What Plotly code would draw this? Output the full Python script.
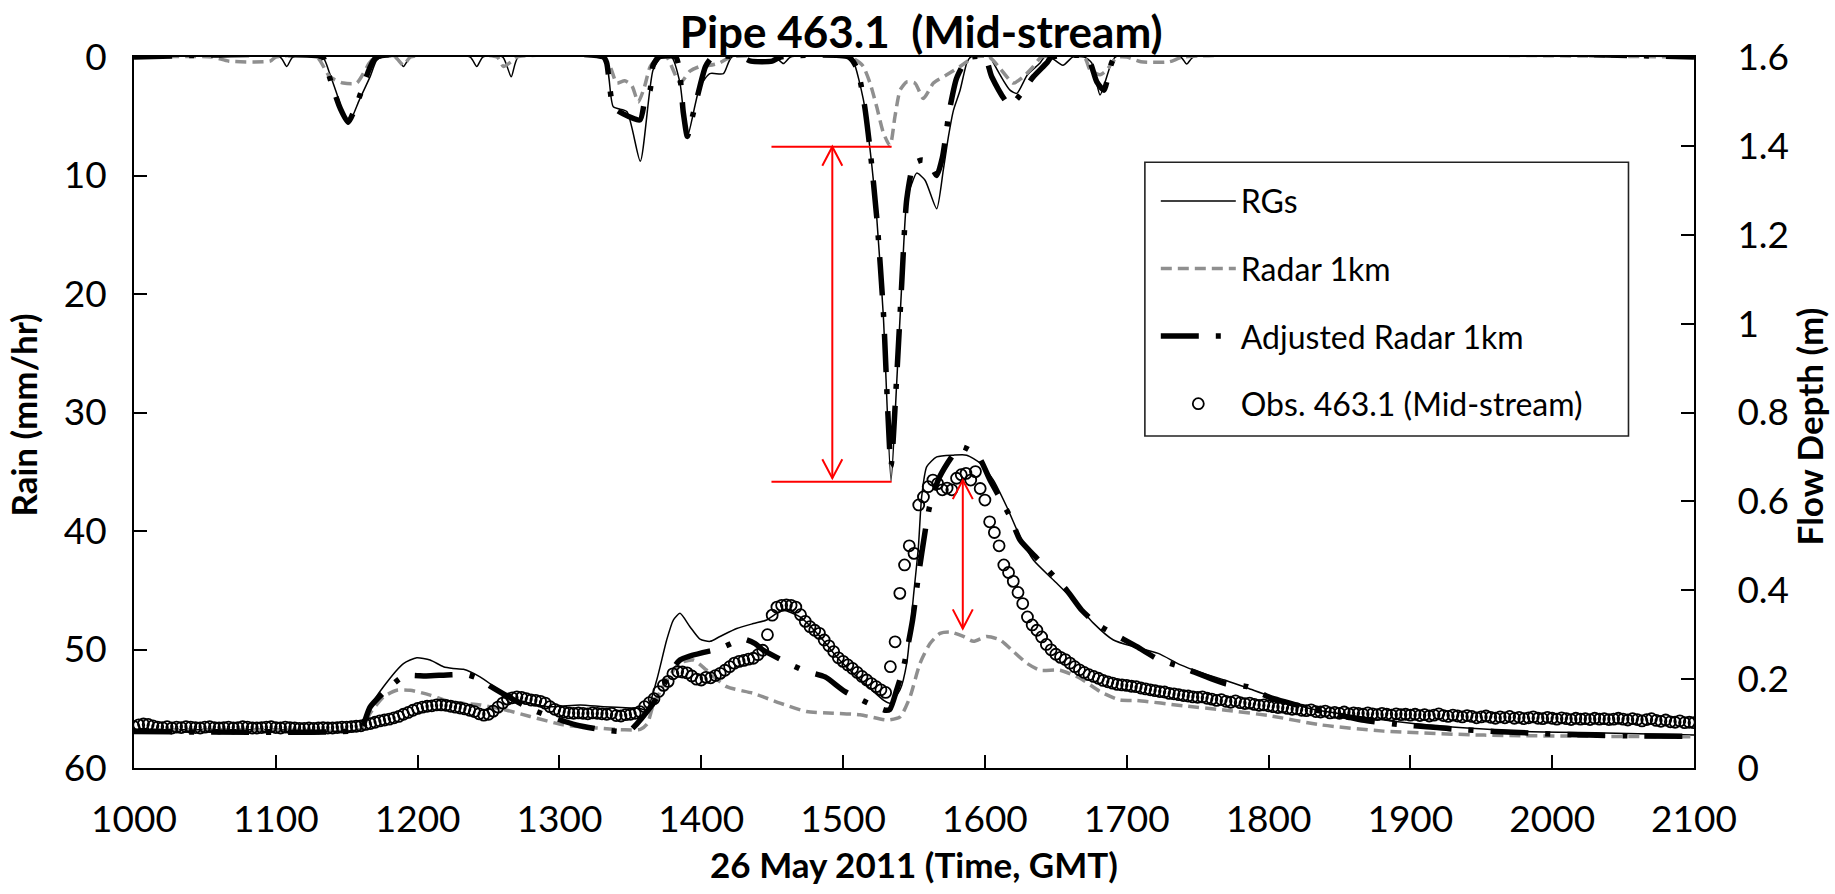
import plotly.graph_objects as go

# ---------------- tick labels ----------------
x_tick_vals = [10, 11, 12, 13, 14, 15, 16, 17, 18, 19, 20, 21]
x_tick_text = ["1000", "1100", "1200", "1300", "1400", "1500", "1600",
               "1700", "1800", "1900", "2000", "2100"]
rain_tick_vals = [0, 10, 20, 30, 40, 50, 60]
depth_tick_vals = [0, 0.2, 0.4, 0.6, 0.8, 1.0, 1.2, 1.4, 1.6]

# ---------------- rainfall (mm/hr), time in decimal hours ----------------
rg_rain_t = [10.00, 11.03, 11.077, 11.12, 11.33, 11.38, 11.43, 11.51, 11.59, 11.665, 11.71, 11.75,
             11.85, 11.90, 11.95, 12.37, 12.417, 12.46, 12.60, 12.66, 12.71,
             13.31, 13.38, 13.475, 13.57, 13.66, 13.72,
             13.79, 13.85, 13.90, 13.99, 14.06, 14.156, 14.215, 14.52, 14.579, 14.63,
             15.03, 15.073, 15.143, 15.19, 15.237, 15.284, 15.338, 15.378, 15.414, 15.449,
             15.484, 15.519, 15.578, 15.66, 15.707, 15.743, 15.778, 15.825, 15.872, 15.90,
             16.04, 16.06, 16.177, 16.225, 16.30, 16.389, 16.42, 16.46, 16.55, 16.62,
             16.70, 16.753, 16.812, 16.883, 16.92, 17.38, 17.423, 17.47, 21.00]
rg_rain = [0, 0, 0.8, 0, 0, 1.4, 3.1, 5.65, 3.6, 1.66, 0.3, 0,
           0, 0.8, 0, 0, 0.8, 0, 0, 1.66, 0,
           0, 4.2, 4.6, 8.8, 1.1, 0,
           0, 2.2, 6.8, 2.5, 1.4, 1.4, 0, 0, 0.55, 0,
           0, 0.4, 3.6, 7.8, 13.5, 21.9, 35.8, 27.5, 19.1, 12.1,
           10.7, 9.8, 10.4, 12.8, 9.5, 6.7, 4.5, 2.8, 0.5, 0,
           0, 0.5, 2.8, 3.07, 1.5, 0.5, 0, 0, 0.7, 0,
           0, 0.5, 3.2, 0.8, 0, 0, 0.6, 0, 0]

radar_rain_t = [10.00, 10.55, 10.67, 10.96, 11.00, 11.288, 11.38, 11.476, 11.57, 11.66, 11.70,
                11.84, 11.90, 11.95, 12.56, 12.605, 12.66, 12.70,
                13.30, 13.357, 13.404, 13.46, 13.51, 13.556, 13.60, 13.64, 13.70,
                13.756, 13.85, 13.92, 13.99, 14.06, 14.13, 14.21,
                15.05, 15.119, 15.143, 15.19, 15.237, 15.284, 15.331, 15.366, 15.402, 15.449,
                15.507, 15.566, 15.637, 15.731, 15.825, 15.872, 15.92,
                16.03, 16.107, 16.201, 16.272, 16.342, 16.40,
                16.70, 16.742, 16.812, 16.86, 16.90, 16.94, 17.00, 17.10, 17.30, 17.40, 21.00]
radar_rain = [0, 0, 0.35, 0.35, 0, 0, 1.66, 2.2, 2.2, 0.5, 0,
              0, 0.7, 0, 0, 0.8, 0.4, 0,
              0, 0.8, 2.2, 2.0, 2.4, 3.8, 2.5, 0.8, 0,
              0, 2.2, 1.2, 0.8, 0.7, 0.5, 0,
              0, 0.5, 0.8, 2.2, 4.2, 6.4, 7.5, 5.0, 2.8, 2.1,
              2.2, 3.5, 2.2, 1.5, 0.8, 0.4, 0,
              0, 0.96, 2.2, 1.66, 0.8, 0,
              0, 1.1, 1.5, 1.1, 0.4, 0, 0, 0.4, 0.4, 0, 0]

adj_rain_t = [10.00, 11.33, 11.347, 11.40, 11.453, 11.51, 11.582, 11.66, 11.71,
              13.31, 13.333, 13.38, 13.45, 13.568, 13.603, 13.639, 13.66, 13.70,
              13.82, 13.874, 13.902, 13.932, 13.99, 14.03, 14.08,
              14.28, 14.35, 14.50, 14.56,
              15.04, 15.10, 15.15, 15.19, 15.237, 15.284, 15.338, 15.378, 15.414, 15.449,
              15.50, 15.56, 15.61, 15.66, 15.70, 15.75, 15.80, 15.86, 15.90,
              16.00, 16.048, 16.177, 16.342, 16.436, 16.47,
              16.72, 16.789, 16.84, 16.88, 16.92, 21.00]
adj_rain = [0, 0, 0.5, 2.5, 4.3, 5.5, 3.6, 1.0, 0,
            0, 0.5, 4.2, 4.8, 5.3, 3.6, 2.8, 0.7, 0,
            0, 4.75, 6.7, 5.3, 2.5, 0.8, 0,
            0, 0.35, 0.35, 0,
            0, 1.0, 4.0, 7.8, 13.5, 21.5, 34.5, 27.0, 19.0, 12.0,
            9.0, 8.7, 9.0, 10.0, 8.5, 4.5, 1.8, 0.4, 0,
            0, 1.66, 4.05, 1.66, 0.5, 0,
            0, 2.1, 2.8, 1.0, 0, 0]

# ---------------- flow depth (m) ----------------
rg_flow_t = [10.00, 11.00, 11.594, 11.665, 11.759, 11.90, 11.994, 12.088, 12.182, 12.25, 12.323,
             12.44, 12.558, 12.652, 12.793, 12.934, 13.146, 13.31, 13.50, 13.569, 13.615,
             13.686, 13.756, 13.803, 13.85, 13.92, 13.991, 14.062, 14.132, 14.25, 14.367,
             14.461, 14.532, 14.579, 14.696, 14.837, 14.955, 15.072, 15.19, 15.284, 15.331,
             15.402, 15.449, 15.496, 15.531, 15.554, 15.59, 15.66, 15.778, 15.872, 15.966,
             16.06, 16.154, 16.248, 16.342, 16.483, 16.624, 16.765, 16.906, 17.047, 17.222,
             17.38, 17.52, 17.69, 17.85, 18.10, 18.29, 18.66, 19.12, 19.80, 20.37, 21.00]
rg_flow = [0.086, 0.086, 0.088, 0.138, 0.183, 0.235, 0.248, 0.243, 0.228, 0.224, 0.222,
           0.205, 0.179, 0.160, 0.146, 0.138, 0.142, 0.138, 0.135, 0.134, 0.130,
           0.198, 0.288, 0.333, 0.348, 0.318, 0.290, 0.285, 0.296, 0.314, 0.325,
           0.333, 0.348, 0.355, 0.340, 0.296, 0.250, 0.213, 0.179, 0.153, 0.146,
           0.176, 0.236, 0.386, 0.498, 0.610, 0.678, 0.700, 0.704, 0.704, 0.686,
           0.648, 0.588, 0.520, 0.468, 0.423, 0.378, 0.326, 0.288, 0.273, 0.258,
           0.232, 0.215, 0.198, 0.180, 0.152, 0.134, 0.115, 0.097, 0.082, 0.079, 0.074]

radar_flow_t = [10.00, 11.00, 11.60, 11.665, 11.759, 11.853, 11.947, 12.088, 12.229, 12.44,
                12.628, 12.793, 13.028, 13.263, 13.45, 13.57, 13.62, 13.66, 13.756, 13.85,
                13.944, 14.038, 14.179, 14.367, 14.555, 14.743, 14.931, 15.12, 15.308, 15.402,
                15.472, 15.543, 15.613, 15.684, 15.754, 15.848, 15.919, 16.013, 16.107, 16.201,
                16.295, 16.389, 16.53, 16.671, 16.812, 16.953, 17.07, 17.40, 17.70, 18.00,
                18.37, 18.81, 19.52, 21.00]
radar_flow = [0.086, 0.086, 0.088, 0.123, 0.160, 0.175, 0.175, 0.164, 0.149, 0.142,
              0.130, 0.116, 0.097, 0.090, 0.086, 0.087, 0.100, 0.140, 0.198, 0.236,
              0.243, 0.220, 0.183, 0.168, 0.146, 0.127, 0.123, 0.120, 0.108, 0.115,
              0.160, 0.236, 0.280, 0.303, 0.306, 0.296, 0.285, 0.296, 0.288, 0.262,
              0.236, 0.220, 0.220, 0.202, 0.172, 0.153, 0.152, 0.140, 0.130, 0.118,
              0.097, 0.083, 0.074, 0.070]

adj_flow_t = [10.00, 11.45, 11.60, 11.667, 11.904, 12.06, 12.236, 12.35, 12.44, 12.518,
              12.817, 13.116, 13.283, 13.45, 13.50, 13.662, 13.85, 14.132, 14.297, 14.38,
              14.438, 14.719, 14.873, 15.014, 15.296, 15.33, 15.378, 15.427, 15.49, 15.53,
              15.58, 15.61, 15.68, 15.83, 15.954, 16.036, 16.177, 16.248, 16.354, 16.577,
              16.683, 16.80, 17.071, 17.22, 17.38, 17.694, 17.85, 18.00, 18.29, 18.66,
              18.946, 19.116, 19.29, 19.60, 19.77, 19.94, 20.26, 20.60, 21.00]
adj_flow = [0.082, 0.082, 0.088, 0.138, 0.207, 0.207, 0.210, 0.210, 0.200, 0.183,
            0.130, 0.097, 0.087, 0.082, 0.085, 0.146, 0.243, 0.269, 0.290, 0.280,
            0.265, 0.220, 0.205, 0.172, 0.130, 0.132, 0.176, 0.228, 0.333, 0.430,
            0.536, 0.588, 0.655, 0.723, 0.701, 0.648, 0.566, 0.513, 0.476, 0.400,
            0.355, 0.322, 0.273, 0.245, 0.228, 0.190, 0.183, 0.160, 0.134, 0.108,
            0.097, 0.093, 0.088, 0.082, 0.080, 0.077, 0.074, 0.072, 0.071]

# Observed flow depth, 2-minute readings from 10:00 to 21:00 (one row per hour)
obs_start_hour = 10.0
obs_step_hour = 2.0 / 60.0
obs_h10 = [0.093, 0.097, 0.099, 0.098, 0.095, 0.092, 0.091, 0.093, 0.090, 0.092, 0.091, 0.093, 0.092, 0.091, 0.090,
           0.092, 0.093, 0.091, 0.090, 0.091, 0.092, 0.090, 0.091, 0.093, 0.092, 0.090, 0.090, 0.091, 0.092, 0.093]
obs_h11 = [0.091, 0.090, 0.092, 0.091, 0.090, 0.089, 0.089, 0.090, 0.089, 0.090, 0.091, 0.090, 0.090, 0.091, 0.092,
           0.092, 0.093, 0.094, 0.095, 0.098, 0.100, 0.103, 0.106, 0.108, 0.110, 0.113, 0.116, 0.121, 0.125, 0.130]
obs_h12 = [0.134, 0.137, 0.139, 0.140, 0.142, 0.142, 0.141, 0.139, 0.137, 0.135, 0.133, 0.130, 0.127, 0.122, 0.119,
           0.121, 0.128, 0.137, 0.146, 0.155, 0.158, 0.160, 0.159, 0.156, 0.153, 0.152, 0.150, 0.146, 0.138, 0.132]
obs_h13 = [0.128, 0.126, 0.124, 0.123, 0.124, 0.123, 0.122, 0.124, 0.123, 0.122, 0.121, 0.123, 0.118, 0.117, 0.120,
           0.121, 0.123, 0.127, 0.138, 0.147, 0.156, 0.172, 0.186, 0.195, 0.212, 0.217, 0.216, 0.214, 0.207, 0.200]
obs_h14 = [0.198, 0.204, 0.203, 0.208, 0.213, 0.220, 0.228, 0.236, 0.240, 0.242, 0.245, 0.247, 0.255, 0.265, 0.300,
           0.344, 0.362, 0.366, 0.367, 0.366, 0.362, 0.345, 0.330, 0.318, 0.310, 0.303, 0.288, 0.275, 0.262, 0.248]
obs_h15 = [0.240, 0.232, 0.224, 0.215, 0.206, 0.198, 0.190, 0.183, 0.176, 0.170, 0.228, 0.284, 0.393, 0.457, 0.500,
           0.483, 0.592, 0.610, 0.633, 0.648, 0.640, 0.626, 0.630, 0.626, 0.652, 0.660, 0.663, 0.648, 0.667, 0.629]
obs_h16 = [0.603, 0.554, 0.530, 0.500, 0.457, 0.440, 0.420, 0.395, 0.370, 0.340, 0.322, 0.310, 0.295, 0.278, 0.266,
           0.256, 0.249, 0.244, 0.236, 0.228, 0.221, 0.215, 0.210, 0.206, 0.202, 0.197, 0.194, 0.191, 0.188, 0.187]
obs_h17 = [0.186, 0.184, 0.183, 0.180, 0.178, 0.176, 0.174, 0.172, 0.171, 0.168, 0.167, 0.165, 0.163, 0.162, 0.160,
           0.159, 0.160, 0.157, 0.155, 0.152, 0.154, 0.150, 0.148, 0.151, 0.147, 0.145, 0.146, 0.143, 0.141, 0.142]
obs_h18 = [0.140, 0.138, 0.136, 0.137, 0.134, 0.132, 0.133, 0.130, 0.129, 0.131, 0.127, 0.126, 0.128, 0.124, 0.125,
           0.123, 0.126, 0.122, 0.124, 0.123, 0.121, 0.124, 0.122, 0.120, 0.123, 0.121, 0.119, 0.122, 0.120, 0.121]
obs_h19 = [0.119, 0.121, 0.118, 0.120, 0.117, 0.119, 0.122, 0.118, 0.116, 0.119, 0.117, 0.115, 0.118, 0.116, 0.113,
           0.115, 0.117, 0.114, 0.112, 0.115, 0.113, 0.116, 0.112, 0.114, 0.111, 0.113, 0.115, 0.112, 0.111, 0.114]
obs_h20 = [0.112, 0.110, 0.113, 0.111, 0.109, 0.112, 0.110, 0.111, 0.109, 0.112, 0.110, 0.111, 0.109, 0.110, 0.112,
           0.110, 0.108, 0.111, 0.109, 0.106, 0.109, 0.111, 0.107, 0.105, 0.108, 0.104, 0.103, 0.106, 0.102, 0.103]
obs_h21 = [0.102]

obs_depth = obs_h10 + obs_h11 + obs_h12 + obs_h13 + obs_h14 + obs_h15 + obs_h16 + obs_h17 + obs_h18 + obs_h19 + obs_h20 + obs_h21
obs_t = [obs_start_hour + i * obs_step_hour for i in range(len(obs_depth))]

# ---------------- annotation values (red arrows) ----------------
peak_rain_rg = 35.84      # RGs peak intensity
peak_rain_radar = 7.57    # Radar 1km peak intensity
rain_arrow_x = 14.924
rain_bar_x0, rain_bar_x1 = 14.495, 15.342
depth_arrow_x = 15.844
depth_obs_peak = 0.648
depth_radar_peak = 0.314

# ---------------- styles ----------------
FONT = "Lato"
RG_STYLE = dict(color="black", width=1.5, shape="spline", smoothing=0.6)
RADAR_STYLE = dict(color="#8f8f8f", width=3.5, dash="11px,6px", shape="spline", smoothing=0.6)
ADJ_STYLE = dict(color="black", width=5.5, dash="38px,17px,5px,17px", shape="spline", smoothing=0.6)

fig = go.Figure()

# rain (left axis, reversed)
fig.add_trace(go.Scatter(x=rg_rain_t, y=rg_rain, mode="lines", line=RG_STYLE,
                         legendgroup="rg", showlegend=False, yaxis="y"))
fig.add_trace(go.Scatter(x=radar_rain_t, y=radar_rain, mode="lines", line=RADAR_STYLE,
                         legendgroup="radar", showlegend=False, yaxis="y"))
fig.add_trace(go.Scatter(x=adj_rain_t, y=adj_rain, mode="lines", line=ADJ_STYLE,
                         legendgroup="adj", showlegend=False, yaxis="y"))

# flow depth (right axis)
fig.add_trace(go.Scatter(x=rg_flow_t, y=rg_flow, mode="lines", line=RG_STYLE,
                         name="RGs", legendgroup="rg", yaxis="y2"))
fig.add_trace(go.Scatter(x=radar_flow_t, y=radar_flow, mode="lines", line=RADAR_STYLE,
                         name="Radar 1km", legendgroup="radar", yaxis="y2"))
fig.add_trace(go.Scatter(x=adj_flow_t, y=adj_flow, mode="lines", line=ADJ_STYLE,
                         name="Adjusted Radar 1km", legendgroup="adj", yaxis="y2"))
fig.add_trace(go.Scatter(x=obs_t, y=obs_depth, mode="markers",
                         marker=dict(symbol="circle-open", size=11, color="black",
                                     line=dict(width=1.8, color="black")),
                         name="Obs. 463.1 (Mid-stream)", legendgroup="obs", yaxis="y2"))

# ---------------- red annotation shapes ----------------
RED = dict(color="#ff0000", width=2)
ah_dx = 0.0705          # arrowhead half-width in hours
ah_dy_rain = 1.6        # arrowhead length in mm/hr
ah_dy_depth = 0.043     # arrowhead length in m
shapes = []
shapes.append(dict(type="line", xref="x", yref="y", x0=rain_bar_x0, x1=rain_bar_x1,
                   y0=peak_rain_radar, y1=peak_rain_radar, line=RED))
shapes.append(dict(type="line", xref="x", yref="y", x0=rain_bar_x0, x1=rain_bar_x1,
                   y0=peak_rain_rg, y1=peak_rain_rg, line=RED))
shapes.append(dict(type="line", xref="x", yref="y", x0=rain_arrow_x, x1=rain_arrow_x,
                   y0=peak_rain_radar, y1=peak_rain_rg - 0.3, line=RED))
shapes.append(dict(type="path", xref="x", yref="y", line=RED,
                   path=f"M {rain_arrow_x - ah_dx} {peak_rain_radar + ah_dy_rain} L {rain_arrow_x} {peak_rain_radar} "
                        f"L {rain_arrow_x + ah_dx} {peak_rain_radar + ah_dy_rain}"))
shapes.append(dict(type="path", xref="x", yref="y", line=RED,
                   path=f"M {rain_arrow_x - ah_dx} {peak_rain_rg - 0.3 - ah_dy_rain} L {rain_arrow_x} {peak_rain_rg - 0.3} "
                        f"L {rain_arrow_x + ah_dx} {peak_rain_rg - 0.3 - ah_dy_rain}"))
shapes.append(dict(type="line", xref="x", yref="y2", x0=depth_arrow_x, x1=depth_arrow_x,
                   y0=depth_radar_peak, y1=depth_obs_peak, line=RED))
shapes.append(dict(type="path", xref="x", yref="y2", line=RED,
                   path=f"M {depth_arrow_x - ah_dx} {depth_obs_peak - ah_dy_depth} L {depth_arrow_x} {depth_obs_peak} "
                        f"L {depth_arrow_x + ah_dx} {depth_obs_peak - ah_dy_depth}"))
shapes.append(dict(type="path", xref="x", yref="y2", line=RED,
                   path=f"M {depth_arrow_x - ah_dx} {depth_radar_peak + ah_dy_depth} L {depth_arrow_x} {depth_radar_peak} "
                        f"L {depth_arrow_x + ah_dx} {depth_radar_peak + ah_dy_depth}"))
# legend frame
shapes.append(dict(type="rect", xref="paper", yref="paper", x0=0.648, x1=0.958, y0=0.467, y1=0.852,
                   line=dict(color="#222222", width=1.6), fillcolor="white", layer="below"))

AX_COMMON = dict(showline=True, linecolor="black", linewidth=2, ticks="inside", ticklen=13,
                 tickwidth=2, tickcolor="black", showgrid=False, zeroline=False,
                 tickfont=dict(family=FONT, size=37, color="black"))

TITLE_FONT = dict(family=FONT, size=35, color="black")
annotations = [
    dict(text="<b>Rain (mm/hr)</b>", xref="paper", yref="paper", x=-0.0712, y=0.497,
         textangle=-90, showarrow=False, xanchor="center", yanchor="middle", font=TITLE_FONT),
    dict(text="<b>Flow Depth (m)</b>", xref="paper", yref="paper", x=1.0735, y=0.48,
         textangle=-90, showarrow=False, xanchor="center", yanchor="middle", font=TITLE_FONT),
]

fig.update_layout(
    width=1835, height=894,
    margin=dict(l=134, r=141, t=57, b=126),
    paper_bgcolor="white", plot_bgcolor="white",
    title=dict(text="<b>Pipe 463.1 \u00a0(Mid-stream)</b>", x=0.502, xanchor="center",
               y=0.963, yanchor="middle", font=dict(family=FONT, size=44, color="black")),
    xaxis=dict(range=[10, 21], tickvals=x_tick_vals, ticktext=x_tick_text, mirror=True,
               ticklabelstandoff=18,
               title=dict(text="<b>26 May 2011 (Time, GMT)</b>", standoff=14,
                          font=TITLE_FONT),
               **AX_COMMON),
    yaxis=dict(range=[60, 0], tickvals=rain_tick_vals, ticklabelstandoff=18,
               **AX_COMMON),
    yaxis2=dict(range=[0, 1.6], tickvals=depth_tick_vals, overlaying="y", side="right",
                ticklabelstandoff=34,
                **AX_COMMON),
    legend=dict(x=0.655, y=0.836, xanchor="left", yanchor="top", bgcolor="rgba(0,0,0,0)",
                borderwidth=0, font=dict(family=FONT, size=32, color="black"),
                itemwidth=75, tracegroupgap=23, traceorder="grouped"),
    shapes=shapes,
    annotations=annotations,
    showlegend=True,
)

fig.write_html("out.html")
